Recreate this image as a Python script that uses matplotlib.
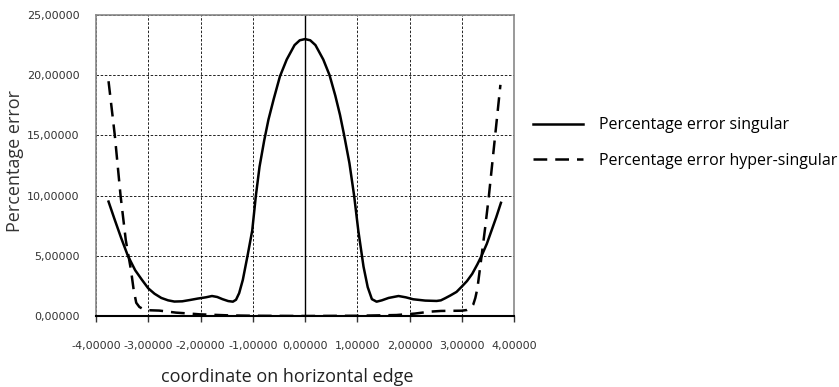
import matplotlib
matplotlib.use("Agg")
import matplotlib.pyplot as plt
from matplotlib.ticker import FuncFormatter

x_singular = [-3.76, -3.65, -3.52, -3.39, -3.25, -3.12, -3.0, -2.88, -2.75, -2.62, -2.5,
              -2.35, -2.2, -2.05, -1.9, -1.78, -1.68, -1.58, -1.47, -1.38, -1.32, -1.26,
              -1.19, -1.10, -1.01, -0.94, -0.87, -0.78, -0.7, -0.6, -0.48, -0.35, -0.2,
              -0.1, 0.0, 0.1, 0.2, 0.35, 0.47, 0.58, 0.67, 0.75, 0.85, 0.94, 1.02, 1.12,
              1.2, 1.28, 1.37, 1.47, 1.6, 1.79, 1.93, 2.07, 2.3, 2.52, 2.6, 2.68, 2.78,
              2.9, 3.0, 3.1, 3.2, 3.3, 3.38, 3.48, 3.57, 3.66, 3.75]
y_singular = [9.5, 8.1, 6.5, 5.0, 3.8, 3.0, 2.3, 1.85, 1.5, 1.3, 1.2,
              1.22, 1.33, 1.45, 1.55, 1.66, 1.58, 1.4, 1.24, 1.19, 1.35, 1.9,
              3.0, 5.0, 7.1, 10.0, 12.4, 14.6, 16.3, 18.0, 19.9, 21.3, 22.5,
              22.9, 23.0, 22.9, 22.5, 21.3, 20.0, 18.3, 16.7, 15.0, 12.7, 10.0, 7.1, 4.1,
              2.4, 1.4, 1.19, 1.3, 1.5, 1.66, 1.55, 1.39, 1.28, 1.25, 1.3, 1.47, 1.7,
              2.0, 2.44, 2.9, 3.5, 4.3, 5.0, 6.0, 7.1, 8.2, 9.4]

x_hyper = [-3.76, -3.64, -3.53, -3.43, -3.33, -3.28, -3.23, -3.17, -3.1, -3.0, -2.79,
           -2.6, -2.47, -2.2, -2.02, -1.45, -1.0, 0.0, 1.0, 1.75, 2.1, 2.39, 2.6, 3.0,
           3.1, 3.17, 3.22, 3.26, 3.3, 3.38, 3.45, 3.52, 3.63, 3.74]
y_hyper = [19.5, 15.0, 10.0, 6.3, 3.8, 2.2, 1.1, 0.75, 0.58, 0.48, 0.45,
           0.35, 0.28, 0.2, 0.14, 0.05, 0.02, 0.0, 0.02, 0.08, 0.2, 0.36, 0.42, 0.44,
           0.5, 0.65, 0.95, 1.5, 2.3, 5.0, 7.4, 10.0, 14.6, 19.2]

x_ticks = [-4, -3, -2, -1, 0, 1, 2, 3, 4]
y_ticks = [0, 5, 10, 15, 20, 25]

fig = plt.figure(figsize=(8.39, 3.87), dpi=100)
ax = fig.add_axes([96/839, 1-316/387, (514-96)/839, (316-15)/387])

ax.plot(x_singular, y_singular, color="black", lw=1.8, label="Percentage error singular",
        solid_joinstyle="round")
ax.plot(x_hyper, y_hyper, color="black", lw=1.8, dashes=(5.5, 3.2),
        label="Percentage error hyper-singular")

ax.set_xlim(-4, 4)
ax.set_ylim(0, 25)
ax.set_xticks(x_ticks)
ax.set_yticks(y_ticks)
fmt = FuncFormatter(lambda v, p: f"{v:.5f}".replace(".", ","))
ax.xaxis.set_major_formatter(fmt)
ax.yaxis.set_major_formatter(fmt)
ax.grid(True, color="black", ls=(0, (3, 2)), lw=0.6)
ax.axvline(0, color="black", lw=1.0)
ax.tick_params(axis="x", direction="out", length=4, width=1, pad=14, labelsize=8, colors="#333333")
ax.tick_params(axis="y", length=0, pad=12, labelsize=8, colors="#333333")
for s in ["top", "right", "left"]:
    ax.spines[s].set_color("#888888")
    ax.spines[s].set_linewidth(1.2)
ax.spines["bottom"].set_color("black")
ax.spines["bottom"].set_linewidth(1.5)
ax.set_axisbelow(True)

fig.text(15/839, 1-161/387, "Percentage error", rotation=90, ha="center", va="center",
         fontsize=13, family="Open Sans", color="#333333")
fig.text(287/839, 1-377/387, "coordinate on horizontal edge", ha="center", va="center",
         fontsize=13, family="Open Sans", color="#222222")

leg = fig.legend(loc="upper left", bbox_to_anchor=(519/839, 1-103/387), frameon=False,
                 prop={"family": "Open Sans", "size": 11.5}, handlelength=3.1,
                 handletextpad=1.0, labelspacing=1.2)

fig.savefig("out.png", dpi=100)
